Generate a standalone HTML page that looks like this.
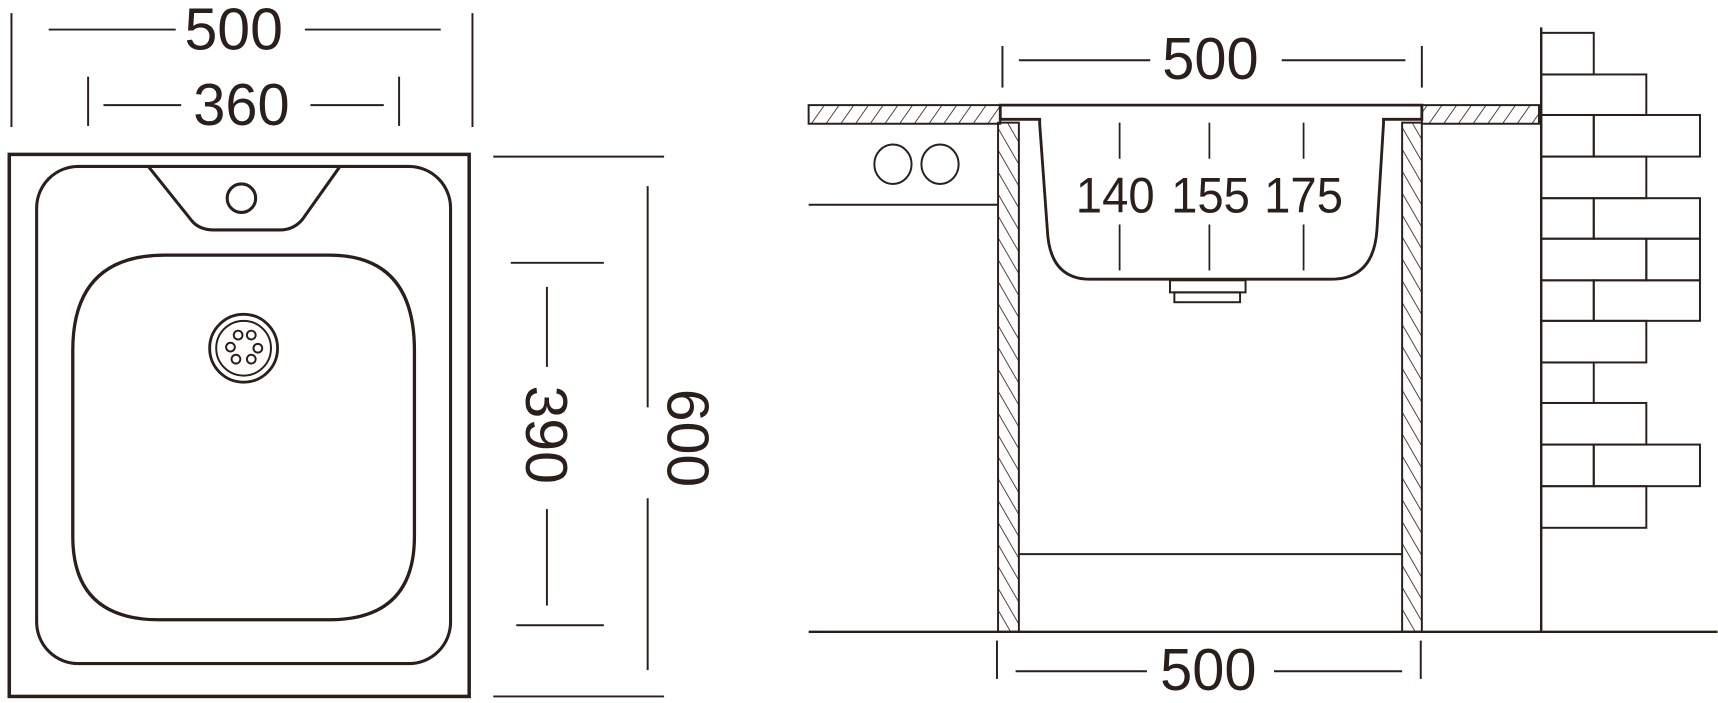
<!DOCTYPE html>
<html><head><meta charset="utf-8"><style>
html,body{margin:0;padding:0;background:#fff;width:1718px;height:703px;overflow:hidden}
svg{display:block}
text{font-family:"Liberation Sans Narrow","Liberation Sans",sans-serif;fill:#2a1f1a}
</style></head><body>
<svg width="1718" height="703" viewBox="0 0 1568 642" xmlns="http://www.w3.org/2000/svg">
<defs>
<pattern id="h" width="11" height="11" patternUnits="userSpaceOnUse" patternTransform="rotate(35)">
<line x1="0" y1="0" x2="0" y2="11" stroke="#2a1f1a" stroke-width="1.5"/>
</pattern>
<pattern id="v" width="10" height="10" patternUnits="userSpaceOnUse" patternTransform="rotate(-30)">
<line x1="0" y1="0" x2="0" y2="10" stroke="#2a1f1a" stroke-width="1.5"/>
</pattern>
</defs>
<g stroke="#2a1f1a" fill="none" stroke-width="1.8">
<line x1="10" y1="12" x2="10" y2="116"/><line x1="431" y1="12" x2="431" y2="116"/>
<line x1="44" y1="27" x2="160" y2="27"/><line x1="278" y1="27" x2="402" y2="27"/>
<line x1="80" y1="70" x2="80" y2="115"/><line x1="364" y1="70" x2="364" y2="115"/>
<line x1="94" y1="96" x2="165" y2="96"/><line x1="283" y1="96" x2="350" y2="96"/>
<rect x="8" y="141" width="420" height="495" stroke-width="3.2"/>
<rect x="33" y="152" width="378" height="454" rx="38" stroke-width="2.8"/>
<path d="M135 152 L175 202 Q182 210 195 210 L255 210 Q268 210 276 200 L310 152" stroke-width="2.8"/>
<circle cx="220" cy="181" r="13" stroke-width="2.8"/>
<path d="M66 320 Q66 233 150 233 L300 233 Q378 233 378 320 L378 490 Q378 566 300 566 L145 566 Q66 566 66 490 Z" stroke-width="3"/>
<circle cx="222" cy="318" r="31" stroke-width="2.6"/>
<circle cx="222" cy="318" r="25" stroke-width="1.8"/>
<g stroke-width="1.8">
<circle cx="217" cy="306" r="4"/><circle cx="229" cy="306" r="4"/>
<circle cx="210" cy="317" r="4"/><circle cx="235" cy="318" r="4"/>
<circle cx="215" cy="328" r="4"/><circle cx="229" cy="328" r="4"/>
</g>
<line x1="450" y1="143" x2="606" y2="143"/><line x1="450" y1="636" x2="606" y2="636"/>
<line x1="591" y1="170" x2="591" y2="372"/><line x1="591" y1="455" x2="591" y2="612"/>
<line x1="466" y1="240" x2="551" y2="240"/><line x1="471" y1="571" x2="551" y2="571"/>
<line x1="499" y1="262" x2="499" y2="335"/><line x1="499" y1="465" x2="499" y2="553"/>
<line x1="915" y1="42" x2="915" y2="80"/><line x1="1298" y1="42" x2="1298" y2="80"/>
<line x1="930" y1="55" x2="1050" y2="55"/><line x1="1170" y1="55" x2="1283" y2="55"/>
<rect x="738" y="96" width="175" height="17" fill="url(#h)"/>
<rect x="1298" y="96" width="107" height="17" fill="url(#h)"/>
<rect x="911" y="112" width="19" height="465" fill="url(#v)"/>
<rect x="1280" y="112" width="18" height="465" fill="url(#v)"/>
<path d="M913 96 L1298 96 L1298 109 L1263 109 L1263 113 L1257 210 Q1254 255 1215 255 L995 255 Q958 255 956 210 L949 113 L949 109 L913 109 Z" stroke-width="2.6" fill="#fff"/>
<rect x="1068" y="256" width="69" height="11"/>
<rect x="1072" y="267" width="60" height="9"/>
<g stroke-width="1.6">
<line x1="1022" y1="112" x2="1022" y2="145"/><line x1="1022" y1="205" x2="1022" y2="247"/>
<line x1="1104" y1="112" x2="1104" y2="145"/><line x1="1104" y1="205" x2="1104" y2="247"/>
<line x1="1190" y1="112" x2="1190" y2="145"/><line x1="1190" y1="205" x2="1190" y2="247"/>
</g>
<ellipse cx="815" cy="150" rx="17" ry="18"/><ellipse cx="858" cy="150" rx="17" ry="18"/>
<line x1="738" y1="187" x2="911" y2="187"/>
<line x1="930" y1="506" x2="1280" y2="506"/>
<line x1="738" y1="577" x2="1568" y2="577" stroke-width="2.2"/>
<line x1="910" y1="585" x2="910" y2="620"/><line x1="1297" y1="585" x2="1297" y2="620"/>
<line x1="927" y1="613" x2="1047" y2="613"/><line x1="1163" y1="613" x2="1280" y2="613"/>
<line x1="1407" y1="25" x2="1407" y2="577" stroke-width="2.2"/>
<g>
<rect x="1407" y="30" width="48" height="38"/>
<rect x="1407" y="68" width="96" height="37"/>
<rect x="1407" y="105" width="48" height="38"/><rect x="1455" y="105" width="97" height="38"/>
<rect x="1407" y="143" width="96" height="38"/>
<rect x="1407" y="181" width="48" height="37"/><rect x="1455" y="181" width="97" height="37"/>
<rect x="1407" y="218" width="96" height="38"/><rect x="1503" y="218" width="49" height="38"/>
<rect x="1407" y="256" width="48" height="37"/><rect x="1455" y="256" width="97" height="37"/>
<rect x="1407" y="293" width="96" height="38"/>
<rect x="1407" y="331" width="48" height="37"/>
<rect x="1407" y="368" width="96" height="38"/>
<rect x="1407" y="406" width="48" height="38"/><rect x="1455" y="406" width="97" height="38"/>
<rect x="1407" y="444" width="96" height="38"/>
</g>
</g>
<g font-size="54" text-anchor="middle">
<text x="213" y="45" textLength="90" lengthAdjust="spacingAndGlyphs">500</text>
<text x="220" y="114" textLength="88" lengthAdjust="spacingAndGlyphs">360</text>
<text x="1105" y="72" textLength="88" lengthAdjust="spacingAndGlyphs">500</text>
<text x="1103" y="630" textLength="88" lengthAdjust="spacingAndGlyphs">500</text>
<text transform="translate(609,400) rotate(90)" textLength="90" lengthAdjust="spacingAndGlyphs">600</text>
<text transform="translate(480,397) rotate(90)" textLength="90" lengthAdjust="spacingAndGlyphs">390</text>
</g>
<g font-size="46" text-anchor="middle">
<text x="1018" y="194" textLength="72" lengthAdjust="spacingAndGlyphs">140</text>
<text x="1105" y="194" textLength="72" lengthAdjust="spacingAndGlyphs">155</text>
<text x="1190" y="194" textLength="72" lengthAdjust="spacingAndGlyphs">175</text>
</g>
</svg>
</body></html>
